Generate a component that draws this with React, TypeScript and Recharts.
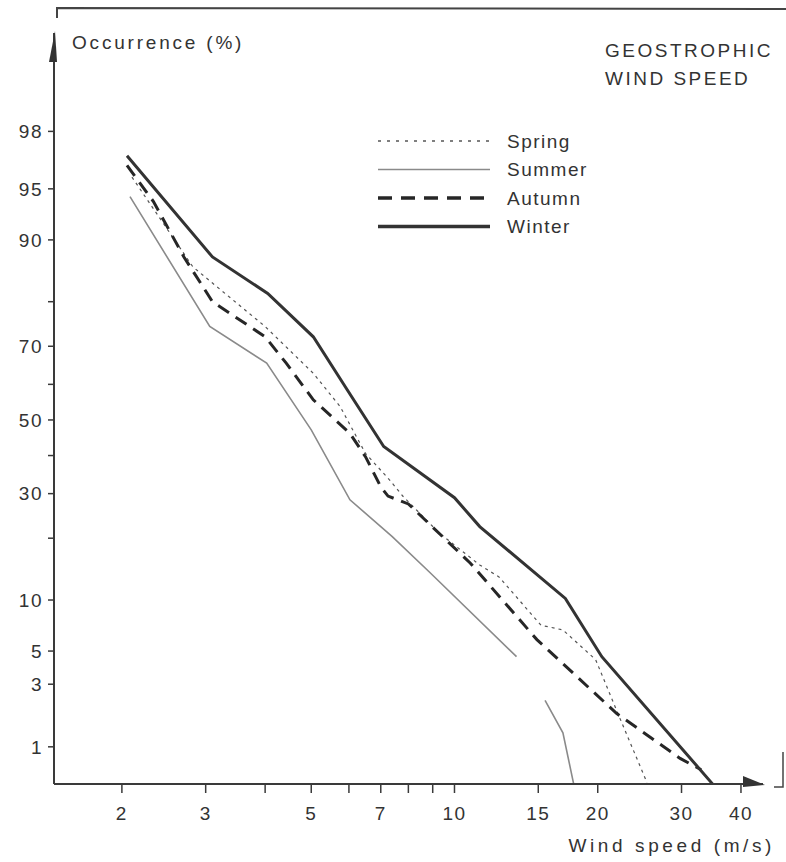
import React from 'react';
import { LineChart, Line, XAxis, YAxis } from 'recharts';

// wind speed axis (log scale)
const speedTicks = [2, 3, 4, 5, 6, 7, 8, 9, 10, 15, 20, 30, 40];
const speedLabels = ['2', '3', '', '5', '', '7', '', '', '10', '15', '20', '30', '40'];

// occurrence axis (normal probability paper)
const occurrenceTicks = [1, 3, 5, 10, 20, 30, 40, 50, 60, 70, 80, 90, 95, 98];
const occurrenceLabels = ['1', '3', '5', '10', '', '30', '', '50', '', '70', '', '90', '95', '98'];

const seasons = ['Spring', 'Summer', 'Autumn', 'Winter'];

// series: speed (m/s) and occurrence (%)
const springSpeed = [2.1, 2.82, 3.1, 4, 5.05, 5.75, 6.5, 7.3, 7.8, 9.3, 11.3, 12.4, 15.2, 16.9, 19.8, 22.2, 25.4];
const springPct = [95.8, 86.2, 83.5, 74.7, 63, 53.8, 40.6, 33.5, 29.3, 21, 15.1, 13.2, 7.2, 6.75, 4.4, 1.73, 0.49];

const summerSpeed = [2.08, 3.06, 4.03, 5, 6.03, 7.4, 8.9, 13.5, 14.5, 15.5, 16.9, 17.8];
const summerPct = [94.4, 74.7, 65.7, 47.2, 28.5, 20.3, 13.8, 4.6, null, 2.3, 1.3, 0.48];

const autumnSpeed = [2.05, 2.33, 2.7, 3.1, 4, 4.43, 5.05, 6.03, 6.5, 7, 7.25, 8, 10.8, 14.9, 21.9, 29.8, 33];
const autumnPct = [96.5, 94, 87.7, 80, 72.3, 65.7, 55.7, 46.2, 39.7, 31.7, 29.4, 27.5, 15.4, 5.9, 1.84, 0.8, 0.64];

const winterSpeed = [2.05, 3.1, 4.05, 5.05, 5.95, 7.1, 10, 11.3, 17.1, 20.4, 35];
const winterPct = [97, 87.7, 81.6, 72.3, 58.5, 42.5, 29, 22.4, 10.2, 4.6, 0.47];

// inverse of the standard normal cdf (Acklam), used as the probability-paper axis transform
function probit(p: number): number {
  const a = [-39.69683028665376, 220.9460984245205, -275.9285104469687, 138.357751867269, -30.66479806614716, 2.506628277459239];
  const b = [-54.47609879822406, 161.5858368580409, -155.6989798598866, 66.80131188771972, -13.28068155288572];
  const c = [-0.007784894002430293, -0.3223964580411365, -2.400758277161838, -2.549732539343734, 4.374664141464968, 2.938163982698783];
  const d = [0.007784695709041462, 0.3224671290700398, 2.445134137142996, 3.754408661907416];
  const pl = 0.02425;
  if (p < pl) {
    const q = Math.sqrt(-2 * Math.log(p));
    return (((((c[0] * q + c[1]) * q + c[2]) * q + c[3]) * q + c[4]) * q + c[5]) / ((((d[0] * q + d[1]) * q + d[2]) * q + d[3]) * q + 1);
  }
  if (p > 1 - pl) {
    const q = Math.sqrt(-2 * Math.log(1 - p));
    return -(((((c[0] * q + c[1]) * q + c[2]) * q + c[3]) * q + c[4]) * q + c[5]) / ((((d[0] * q + d[1]) * q + d[2]) * q + d[3]) * q + 1);
  }
  const q = p - 0.5;
  const r = q * q;
  return ((((((a[0] * r + a[1]) * r + a[2]) * r + a[3]) * r + a[4]) * r + a[5]) * q) / (((((b[0] * r + b[1]) * r + b[2]) * r + b[3]) * r + b[4]) * r + 1);
}

const toPoints = (speeds: number[], pcts: (number | null)[]) =>
  speeds.map((s, i) => ({ speed: s, z: pcts[i] == null ? null : probit((pcts[i] as number) / 100) }));

const yTicks = occurrenceTicks.map((p) => probit(p / 100));

const FONT = '"Liberation Sans", Arial, sans-serif';
const INK = '#333';

const seriesStyle: Record<string, { stroke: string; width: number; dash?: string; legendDash?: string; legendWidth: number }> = {
  Spring: { stroke: '#555', width: 1.2, dash: '3 4', legendDash: '3 6', legendWidth: 1.3 },
  Summer: { stroke: '#8a8a8a', width: 1.6, legendWidth: 1.6 },
  Autumn: { stroke: '#262626', width: 3, dash: '13 8', legendDash: '14 9', legendWidth: 3.5 },
  Winter: { stroke: '#333', width: 3, legendWidth: 3.5 },
};

const seriesData: Record<string, { speed: number; z: number | null }[]> = {
  Spring: toPoints(springSpeed, springPct),
  Summer: toPoints(summerSpeed, summerPct),
  Autumn: toPoints(autumnSpeed, autumnPct),
  Winter: toPoints(winterSpeed, winterPct),
};

export default function App() {
  const tickStyle = { fontSize: 19, fontFamily: FONT, fill: INK, letterSpacing: 1.5 };
  return (
    <div style={{ position: 'absolute', left: 0, top: 0, width: 786, height: 862, background: '#fff' }}>
      <LineChart width={786} height={862} margin={{ top: 33, right: 23, bottom: 28, left: 0 }}>
        <XAxis
          type="number"
          dataKey="speed"
          scale="log"
          domain={[1.44, 44.5]}
          allowDataOverflow
          ticks={speedTicks}
          tickFormatter={(v: number) => speedLabels[speedTicks.indexOf(v)] ?? ''}
          tickSize={9}
          tickMargin={14}
          height={50}
          axisLine={{ stroke: '#3a3a3a', strokeWidth: 2 }}
          tickLine={{ stroke: '#3a3a3a', strokeWidth: 1.5 }}
          tick={tickStyle}
          interval={0}
        />
        <YAxis
          type="number"
          dataKey="z"
          domain={[-2.591, 2.754]}
          allowDataOverflow
          ticks={yTicks}
          tickFormatter={(v: number) => {
            let best = 0;
            yTicks.forEach((t, i) => {
              if (Math.abs(t - v) < Math.abs(yTicks[best] - v)) best = i;
            });
            return occurrenceLabels[best];
          }}
          width={54}
          tickSize={6}
          tickMargin={5}
          axisLine={{ stroke: '#3a3a3a', strokeWidth: 2 }}
          tickLine={{ stroke: '#3a3a3a', strokeWidth: 1.5 }}
          tick={tickStyle}
          interval={0}
        />
        {seasons.map((name) => (
          <Line
            key={name}
            name={name}
            data={seriesData[name]}
            dataKey="z"
            type="linear"
            stroke={seriesStyle[name].stroke}
            strokeWidth={seriesStyle[name].width}
            strokeDasharray={seriesStyle[name].dash}
            dot={false}
            connectNulls={false}
            isAnimationActive={false}
          />
        ))}
      </LineChart>
      <svg width={786} height={862} style={{ position: 'absolute', left: 0, top: 0, pointerEvents: 'none' }}>
        {/* scan frame */}
        <path d="M57 18 L57 8 L786 9" fill="none" stroke="#444" strokeWidth={2} />
        <path d="M774 787 L783 787 L783 752" fill="none" stroke="#444" strokeWidth={1.5} />
        {/* axis arrowheads */}
        <polygon points="55,31 49,62 57,62" fill="#333" />
        <polygon points="765,785 743,776 743,787" fill="#333" />
        <text x={72} y={42} dominantBaseline="central" fontSize={19} fontFamily={FONT} fill={INK} letterSpacing={2.8}>
          Occurrence (%)
        </text>
        <text x={605} y={50} dominantBaseline="central" fontSize={19} fontFamily={FONT} fill={INK} letterSpacing={2.5}>
          GEOSTROPHIC
        </text>
        <text x={605} y={78} dominantBaseline="central" fontSize={19} fontFamily={FONT} fill={INK} letterSpacing={2.5}>
          WIND SPEED
        </text>
        <text x={775} y={845} textAnchor="end" dominantBaseline="central" fontSize={19} fontFamily={FONT} fill={INK} letterSpacing={3.6}>
          Wind speed (m/s)
        </text>
        {/* legend */}
        {seasons.map((name, i) => {
          const st = seriesStyle[name];
          const y = 141 + i * 28.5;
          return (
            <g key={name}>
              <line x1={378} x2={490} y1={y} y2={y} stroke={st.stroke} strokeWidth={st.legendWidth} strokeDasharray={st.legendDash} />
              <text x={507} y={y} dominantBaseline="central" fontSize={19} fontFamily={FONT} fill={INK} letterSpacing={1.5}>
                {name}
              </text>
            </g>
          );
        })}
      </svg>
    </div>
  );
}
